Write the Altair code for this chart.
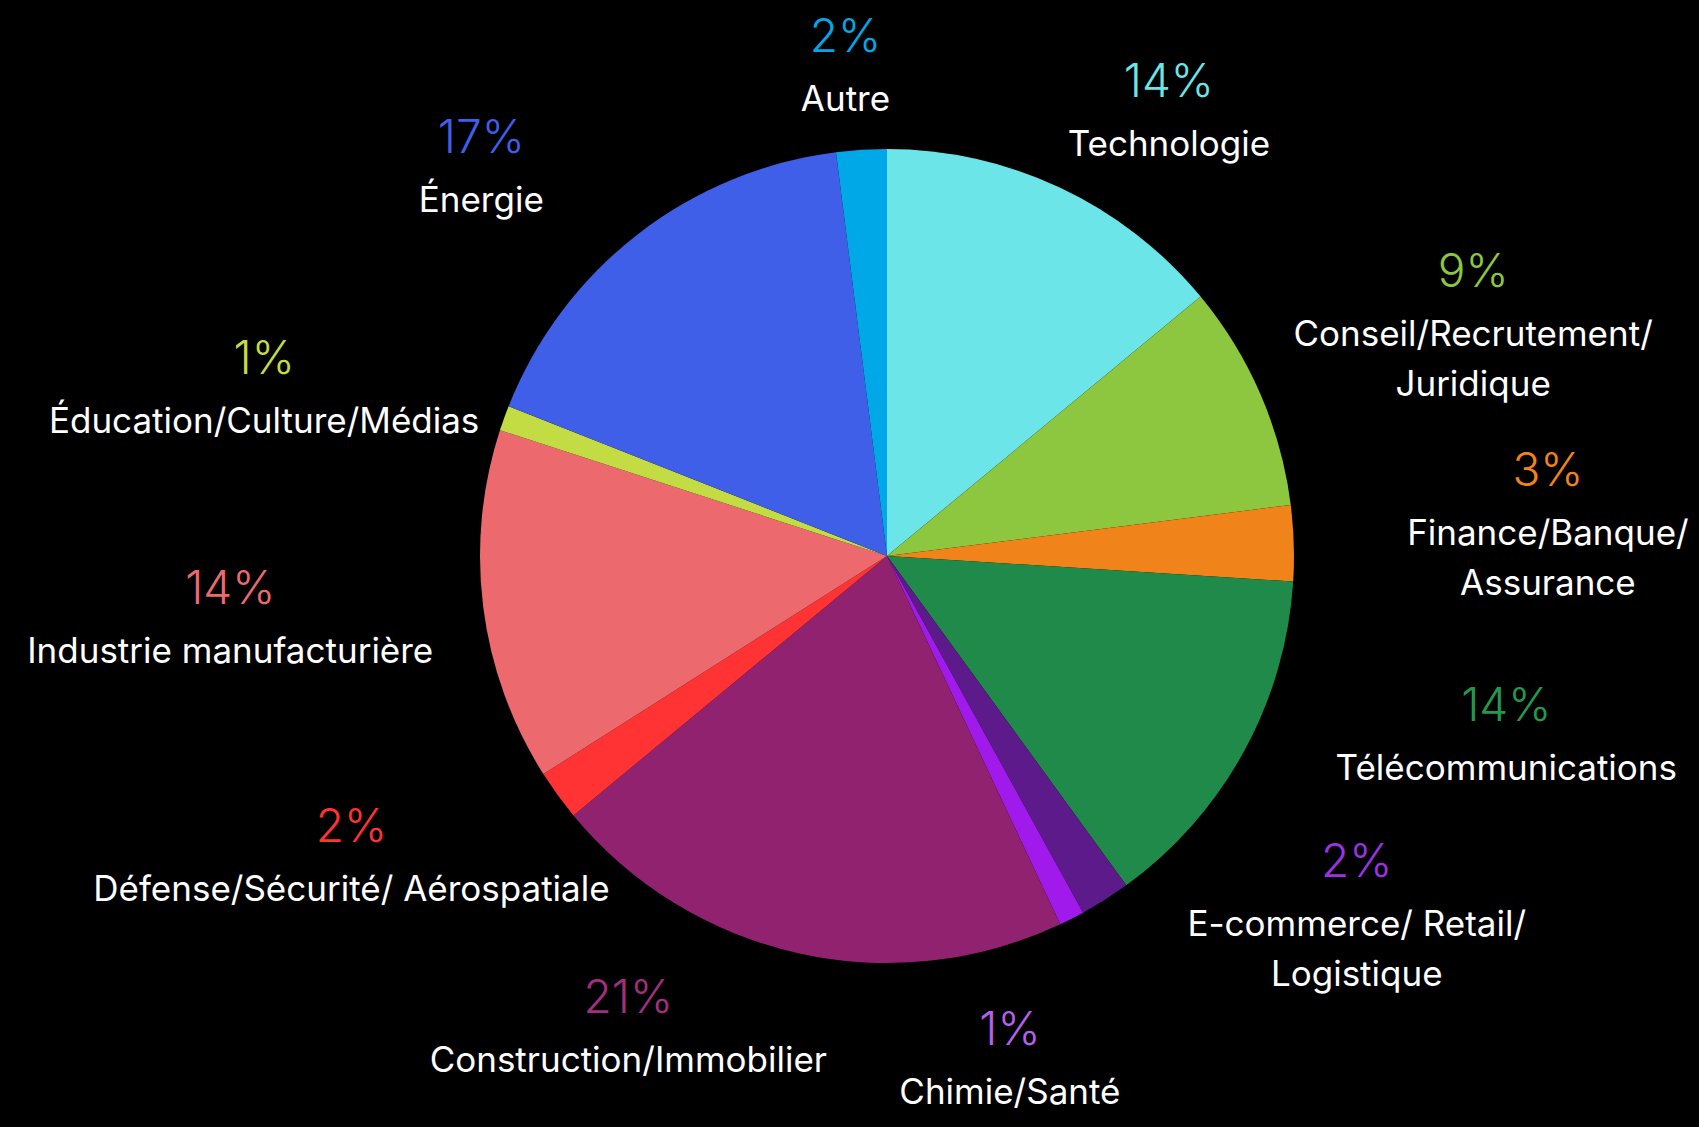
import math
import numpy as np
import pandas as pd
import altair as alt

# ---------------- data ----------------
categories = [
    "Technologie", "Conseil/Recrutement/ Juridique", "Finance/Banque/ Assurance",
    "Télécommunications", "E-commerce/ Retail/ Logistique", "Chimie/Santé",
    "Construction/Immobilier", "Défense/Sécurité/ Aérospatiale",
    "Industrie manufacturière", "Éducation/Culture/Médias", "Énergie", "Autre",
]
label_lines = [
    ["Technologie"], ["Conseil/Recrutement/", "Juridique"], ["Finance/Banque/", "Assurance"],
    ["Télécommunications"], ["E-commerce/ Retail/", "Logistique"], ["Chimie/Santé"],
    ["Construction/Immobilier"], ["Défense/Sécurité/ Aérospatiale"],
    ["Industrie manufacturière"], ["Éducation/Culture/Médias"], ["Énergie"], ["Autre"],
]
values = [14, 9, 3, 14, 2, 1, 21, 2, 14, 1, 17, 2]
colors = [
    "#6BE5E8", "#8DC63F", "#F0841A", "#1F8A4A", "#5C1A8A", "#A01BEB",
    "#912270", "#FF3333", "#EC6A6E", "#C3DC44", "#3F5FE8", "#00A8E8",
]
label_colors = [
    "#6BE5E8", "#8DC63F", "#F0841A", "#229A4E", "#9A34E0", "#B560E8",
    "#A0307F", "#FF3333", "#EC6A6E", "#C3DC44", "#3F5FE8", "#00A8E8",
]

# ---------------- layout parameters ----------------
W, H = 1600, 1096
PIE_R = 407
LAB_A = 662                 # label ellipse half width
LAB_B_TOP, LAB_B_BOTTOM = 488, 515
MIN_GAP = 24                # minimal angular spacing between labels (deg)
PCT_GAP = 62                # percent line -> first name line
LINE_H = 50.5               # name line spacing
CHAR_W = 17.2               # approx. width of a name character
PAD_X, PAD_Y = 80, 40
FONT = "Inter"

n = len(values)
total = float(sum(values))
cum = np.concatenate([[0.0], np.cumsum(values)])
mid = (cum[:-1] + cum[1:]) / 2.0 / total * 360.0

box_w = [max(len(s) for s in ls) * CHAR_W for ls in label_lines]
box_h = [PCT_GAP + (len(ls) - 1) * LINE_H + 46 for ls in label_lines]


def centre(i, ang_deg):
    a = math.radians(ang_deg)
    c = math.cos(a)
    b = LAB_B_TOP if c >= 0 else LAB_B_BOTTOM
    return LAB_A * math.sin(a), b * c


def conflict(i, j, t):
    xi, yi = centre(i, t[i])
    xj, yj = centre(j, t[j])
    ox = (box_w[i] + box_w[j]) / 2 + PAD_X - abs(xi - xj)
    oy = (box_h[i] + box_h[j]) / 2 + PAD_Y - abs(yi - yj)
    d = (t[j] - t[i]) % 360.0
    return (ox > 0 and oy > 0) or d < MIN_GAP


# relaxation: push neighbouring labels apart until their boxes do not overlap
t = mid.copy()
STEP = 0.1
for _ in range(6000):
    moved = False
    for i in range(n):
        j = (i + 1) % n
        if conflict(i, j, t):
            t[i] -= STEP
            t[j] += STEP
            moved = True
    if not moved:
        break

rows = []
for i, cat in enumerate(categories):
    cx, cy = centre(i, t[i])
    nl = len(label_lines[i])
    y_pct = cy + (PCT_GAP + (nl - 1) * LINE_H) / 2.0
    rows.append({"cat": cat, "role": "pct", "text": f"{values[i]}%", "x": cx, "y": y_pct})
    for k, line in enumerate(label_lines[i]):
        rows.append({"cat": cat, "role": "name", "text": line,
                     "x": cx, "y": y_pct - PCT_GAP - k * LINE_H})
labels = pd.DataFrame(rows)

pie_df = pd.DataFrame({"cat": categories, "value": values, "idx": list(range(n))})

color_scale = alt.Scale(domain=categories, range=colors)
label_scale = alt.Scale(domain=categories, range=label_colors)
xs = alt.Scale(domain=[-W / 2, W / 2], nice=False, zero=False)
ys = alt.Scale(domain=[-H / 2, H / 2], nice=False, zero=False)

pie = alt.Chart(pie_df).mark_arc(radius=PIE_R).encode(
    theta=alt.Theta("value:Q", stack=True),
    color=alt.Color("cat:N", scale=color_scale, legend=None),
    order=alt.Order("idx:Q", sort="ascending"),
)

pct = alt.Chart(labels).transform_filter(alt.datum.role == "pct").mark_text(
    font=FONT, fontSize=46, fontWeight=300, align="center", baseline="middle"
).encode(
    x=alt.X("x:Q", scale=xs, axis=None),
    y=alt.Y("y:Q", scale=ys, axis=None),
    text="text:N",
    fill=alt.Fill("cat:N", scale=label_scale, legend=None),
)

names = alt.Chart(labels).transform_filter(alt.datum.role == "name").mark_text(
    font=FONT, fontSize=35, fontWeight=400, align="center", baseline="middle", color="white"
).encode(
    x=alt.X("x:Q", scale=xs, axis=None),
    y=alt.Y("y:Q", scale=ys, axis=None),
    text="text:N",
)

chart = alt.layer(pie, pct, names).properties(
    width=W, height=H,
    autosize="none",
    padding={"left": 79, "top": 0, "right": 4, "bottom": 30},
).resolve_scale(color="independent").configure(background="black").configure_view(stroke=None)

chart.save("out.html", embed_options={"renderer": "svg", "actions": False,
                                      "defaultStyle": "html,body{background:#000000;overflow:hidden;}"})
